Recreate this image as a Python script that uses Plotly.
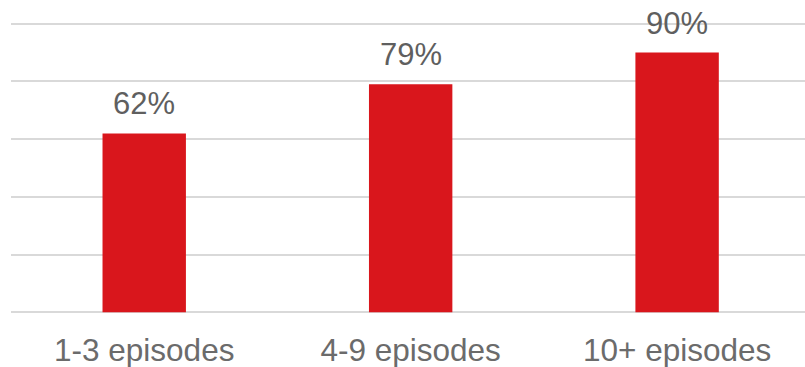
import plotly.graph_objects as go

categories = ["1-3 episodes", "4-9 episodes", "10+ episodes"]
values = [62, 79, 90]
labels = ["62%", "79%", "90%"]

fig = go.Figure()
fig.add_trace(go.Bar(
    x=categories, y=values,
    marker=dict(color="#D9161C", line=dict(width=0)),
    width=0.313,
    hoverinfo="skip",
))

for c, v, t in zip(categories, values, labels):
    fig.add_annotation(x=c, y=v, text=t, showarrow=False, yanchor="bottom",
                       yshift=10, font=dict(family="Liberation Sans, Arial", size=31, color="#5f5f5f"))

fig.update_layout(
    width=805, height=367,
    margin=dict(l=11, r=0, t=18, b=49),
    paper_bgcolor="white", plot_bgcolor="white",
    showlegend=False,
    font=dict(family="Liberation Sans, Arial"),
)
fig.update_xaxes(range=[-0.5, 2.48], showgrid=False, showline=False, zeroline=False,
                 ticks="", tickfont=dict(size=31.5, color="#6b6b6b"), ticklabelstandoff=10)
fig.update_yaxes(range=[-2, 102], tickvals=[0, 20, 40, 60, 80, 100], showticklabels=False,
                 showgrid=True, gridcolor="#d9d9d9", gridwidth=2, zeroline=False, showline=False)

fig.write_html("out.html")
